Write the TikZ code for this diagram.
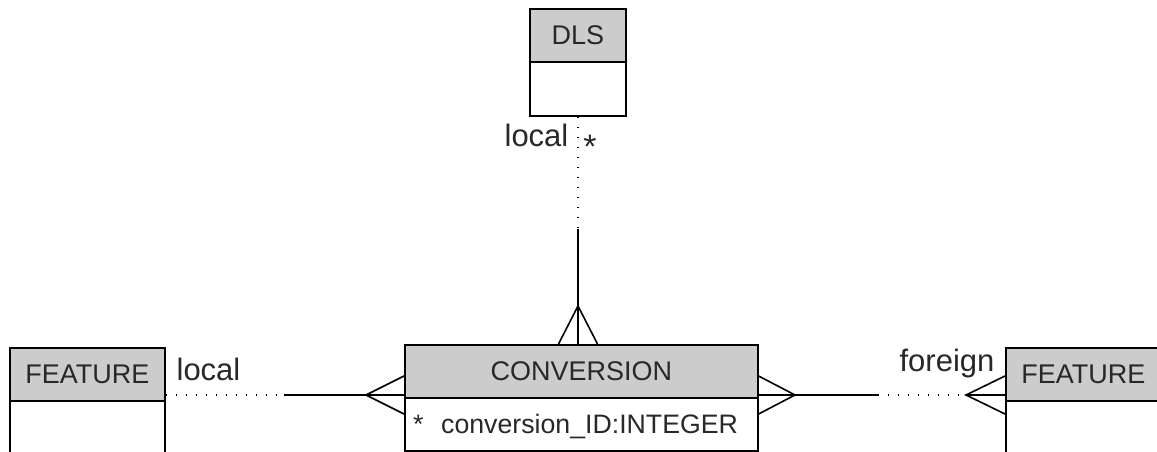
\documentclass[tikz,border=0pt]{standalone}
\usepackage{fontspec}
\setmainfont{Liberation Sans}
\definecolor{hdrgray}{RGB}{204,204,204}
\definecolor{txt}{RGB}{40,40,40}
\begin{document}
\begin{tikzpicture}[x=1pt,y=-1pt,
  hdr/.style={draw, line width=1.6pt, fill=hdrgray, inner sep=0pt, anchor=north west, font=\fontsize{27}{32}\selectfont, text=txt},
  bodyb/.style={draw, line width=1.6pt, fill=white, inner sep=0pt, anchor=north west},
  rel/.style={line width=1.6pt},
  dotl/.style={line width=1.2pt, dash pattern=on 1.2pt off 8.8pt},
  lbl/.style={font=\fontsize{31}{36}\selectfont, text=txt, inner sep=0pt, anchor=base},
  attr/.style={font=\fontsize{26.7}{32}\selectfont, text=txt, inner sep=0pt, anchor=base west}]
\useasboundingbox (0,0) rectangle (1157,452);
% DLS
\node[bodyb, minimum width=96pt, minimum height=54pt] (dlsb) at (529,61) {};
\node[hdr, minimum width=96pt, minimum height=53pt] (dlsh) at (529,8) {DLS};
% CONVERSION
\node[bodyb, minimum width=353pt, minimum height=53pt] (convb) at (404,397) {};
\node[hdr, minimum width=353pt, minimum height=53pt] (convh) at (404,344) {CONVERSION};
\node[attr] (ast) at (413,433) {*};
\node[attr] (cid) at (441,433) {conversion\_ID:INTEGER};
% left FEATURE
\node[bodyb, minimum width=155pt, minimum height=80pt] (lfb) at (9,400) {};
\node[hdr, minimum width=155pt, minimum height=53pt] (lfh) at (9,347) {FEATURE};
% right FEATURE
\node[bodyb, minimum width=155pt, minimum height=80pt] (rfb) at (1005,400) {};
\node[hdr, minimum width=155pt, minimum height=53pt] (rfh) at (1005,347) {FEATURE};
% labels
\node[lbl] (l1) at (536.5,146) {local};
\node[font=\fontsize{34}{36}\selectfont, text=txt, inner sep=0pt] (s1) at (590,147) {*};
\node[lbl] (l2) at (208.5,380) {local};
\node[lbl] (l3) at (947,371) {foreign};
% vertical relationship DLS - CONVERSION
\coordinate (vs) at (578,229);
\coordinate (va) at (578,306);
\coordinate (vc) at (vs |- convh.north);
\draw[dotl] (dlsb.south -| vs) -- (vs);
\draw[rel] (vs) -- (vc);
\draw[rel] ([xshift=-19.5pt]vc) -- (va) -- ([xshift=19.5pt]vc);
% left relationship
\coordinate (ly) at (0,395);
\coordinate (ls) at (284,395);
\coordinate (la) at (366,395);
\coordinate (lc) at (convh.west |- ly);
\draw[dotl] (lfh.east |- ly) -- (ls);
\draw[rel] (ls) -- (lc);
\draw[rel] ([yshift=19pt]lc) -- (la) -- ([yshift=-19pt]lc);
% right relationship
\coordinate (rc) at (convh.east |- ly);
\coordinate (ra) at (795,395);
\coordinate (rs) at (878,395);
\coordinate (ra2) at (966,395);
\coordinate (rf) at (rfh.west |- ly);
\draw[rel] ([yshift=19pt]rc) -- (ra) -- ([yshift=-19pt]rc);
\draw[rel] (rc) -- (rs);
\draw[dotl] (rs) -- (ra2);
\draw[rel] (ra2) -- (rf);
\draw[rel] ([yshift=19pt]rf) -- (ra2) -- ([yshift=-19pt]rf);
\end{tikzpicture}
\end{document}
